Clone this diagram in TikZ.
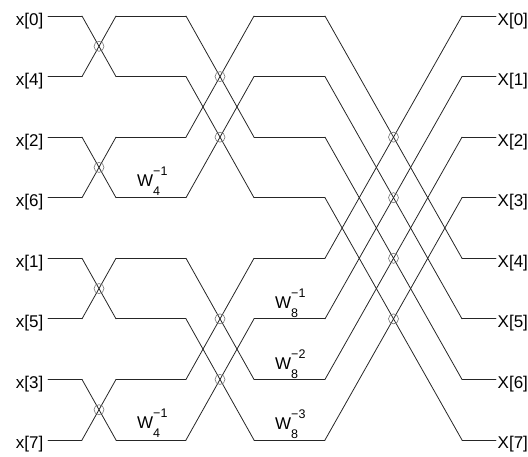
\documentclass[tikz,border=0pt]{standalone}
\usepackage{fontspec}
\setmainfont{Liberation Sans}
\usetikzlibrary{calc}
\newcommand\twid[2]{W\rlap{\raisebox{11pt}{\fontsize{12.5}{12}\selectfont #2}}\raisebox{-9pt}{\fontsize{12.5}{12}\selectfont #1}}
\begin{document}
\begin{tikzpicture}[x=1pt,y=-1pt,
  wire/.style={line width=0.8pt, black!85, line cap=round, line join=round},
  mul/.style={circle, draw=black!55, line width=0.6pt, minimum size=10pt, inner sep=0pt},
  lbl/.style={font=\fontsize{17}{19}\selectfont, inner sep=0pt},
  ]
\useasboundingbox (0,0) rectangle (528,456);
\foreach \i/\r in {0/0,1/4,2/2,3/6,4/1,5/5,6/3,7/7} {
  \pgfmathsetmacro\yy{16+60.57*\i}
  \coordinate (a\i) at (48,\yy);
  \coordinate (b\i) at (82,\yy);
  \coordinate (c\i) at (116,\yy);
  \coordinate (d\i) at (186,\yy);
  \coordinate (e\i) at (254,\yy);
  \coordinate (f\i) at (325,\yy);
  \coordinate (g\i) at (462,\yy);
  \coordinate (h\i) at (496,\yy);
  \node[lbl, anchor=base east] (in\i) at (43.5,\yy+9) {x[\r]};
  \node[lbl, anchor=base west] (out\i) at (497.5,\yy+9) {X[\i]};
}
% horizontal runs
\foreach \i in {0,...,7} {
  \draw[wire] (a\i) -- (b\i);
  \draw[wire] (c\i) -- (d\i);
  \draw[wire] (e\i) -- (f\i);
  \draw[wire] (g\i) -- (h\i);
}
% stage 1
\foreach \p/\q in {0/1,2/3,4/5,6/7} {
  \draw[wire] (b\p) -- (c\q);
  \draw[wire] (b\q) -- (c\p);
  \node[mul] (m1\p) at ($(b\p)!0.5!(c\q)$) {};
}
% stage 2
\foreach \p/\q in {0/2,1/3,4/6,5/7} {
  \draw[wire] (d\p) -- (e\q);
  \draw[wire] (d\q) -- (e\p);
  \node[mul] (m2\p) at ($(d\p)!0.5!(e\q)$) {};
}
% stage 3
\foreach \p/\q in {0/4,1/5,2/6,3/7} {
  \draw[wire] (f\p) -- (g\q);
  \draw[wire] (f\q) -- (g\p);
  \node[mul] (m3\p) at ($(f\p)!0.5!(g\q)$) {};
}
% twiddle factors
\node[lbl, anchor=base west] (w41) at ($(c3)+(21,-11)$) {\twid{4}{−1}};
\node[lbl, anchor=base west] (w42) at ($(c7)+(21,-11)$) {\twid{4}{−1}};
\node[lbl, anchor=base west] (w81) at ($(e5)+(21,-10)$) {\twid{8}{−1}};
\node[lbl, anchor=base west] (w82) at ($(e6)+(21,-10)$) {\twid{8}{−2}};
\node[lbl, anchor=base west] (w83) at ($(e7)+(21,-10)$) {\twid{8}{−3}};
\end{tikzpicture}
\end{document}
